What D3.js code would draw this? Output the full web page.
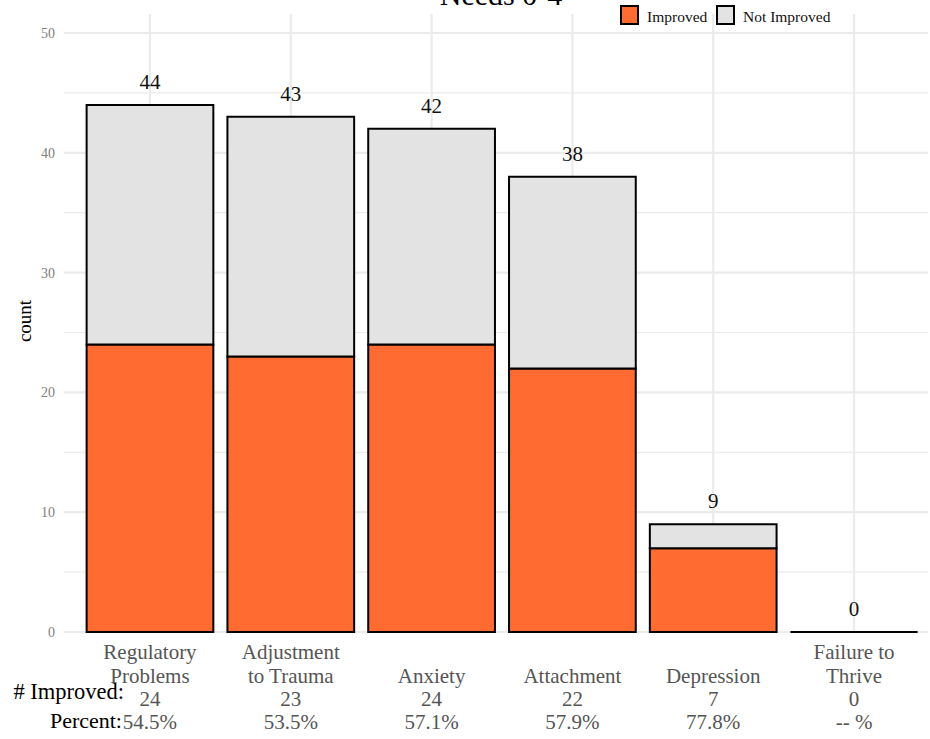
<!DOCTYPE html>
<html><head><meta charset="utf-8">
<script src="https://cdn.jsdelivr.net/npm/d3@7/dist/d3.min.js"></script>
<style>body{margin:0;background:#fff}svg{display:block}text{font-family:"Liberation Serif","DejaVu Serif",serif}</style>
</head><body><div id="chart"></div>
<script>
const categories = ["Regulatory\nProblems","Adjustment\nto Trauma","Anxiety","Attachment","Depression","Failure to\nThrive"];
const improved = [24,23,24,22,7,0];
const notImproved = [20,20,18,16,2,0];
const percentLabels = ["54.5%","53.5%","57.1%","57.9%","77.8%","-- %"];
const yTicks = [0,10,20,30,40,50];
const yMinor = [5,15,25,35,45];
const seriesNames = ["Improved","Not Improved"];
const colors = ["#FF6B30","#E3E3E3"];
const title = "Needs 0-4";

const W=930,H=739;
const svg=d3.select("#chart").append("svg").attr("width",W).attr("height",H);
const panelL=64, panelR=928, panelT=14;
const x=d3.scalePoint().domain(categories);
const step=(938.5-65.5)/(categories.length-1+1.2);
x.range([65.5+0.6*step, 938.5-0.6*step]);
const bw=step*0.9;
const y=d3.scaleLinear().domain([0,50]).range([632,33]);

const grid=svg.append("g");
yMinor.forEach(v=>grid.append("line").attr("x1",panelL).attr("x2",panelR).attr("y1",y(v)).attr("y2",y(v)).attr("stroke","#ececec").attr("stroke-width",1.2));
yTicks.forEach(v=>grid.append("line").attr("x1",panelL).attr("x2",panelR).attr("y1",y(v)).attr("y2",y(v)).attr("stroke","#ebebeb").attr("stroke-width",2.2));
categories.forEach(c=>grid.append("line").attr("x1",x(c)).attr("x2",x(c)).attr("y1",panelT).attr("y2",y(0)).attr("stroke","#ebebeb").attr("stroke-width",2.2));

svg.append("g").selectAll("text").data(yTicks).join("text")
  .attr("x",55).attr("y",d=>y(d)+5).attr("text-anchor","end")
  .attr("font-size",14).attr("fill","#808080").text(d=>d);

const data=categories.map((c,i)=>({c,imp:improved[i],not:notImproved[i],tot:improved[i]+notImproved[i]}));
function barPath(x0,x1,y0,y1){return `M${x0},${y0}V${y1}H${x1}V${y0}Z`;}
const bars=svg.append("g");
data.forEach(d=>{
  const x0=x(d.c)-bw/2,x1=x(d.c)+bw/2;
  bars.append("path").attr("d",barPath(x0,x1,y(0),y(d.imp))).attr("fill",colors[0]).attr("stroke","#000").attr("stroke-width",2);
  bars.append("path").attr("d",barPath(x0,x1,y(d.imp),y(d.tot))).attr("fill",colors[1]).attr("stroke","#000").attr("stroke-width",2);
});
svg.append("g").selectAll("text").data(data).join("text")
  .attr("x",d=>x(d.c)).attr("y",d=>y(d.tot)-16).attr("text-anchor","middle")
  .attr("font-size",21).attr("fill","#111").text(d=>d.tot);

const lineY=[659,683,706,729];
data.forEach((d,i)=>{
  const lines=d.c.split("\n");
  const start=2-lines.length;
  lines.forEach((l,j)=>svg.append("text").attr("x",x(d.c)).attr("y",lineY[start+j]).attr("text-anchor","middle").attr("font-size",21).attr("fill","#555").text(l));
  svg.append("text").attr("x",x(d.c)).attr("y",lineY[2]).attr("text-anchor","middle").attr("font-size",21).attr("fill","#555").text(improved[i]);
  svg.append("text").attr("x",x(d.c)).attr("y",lineY[3]).attr("text-anchor","middle").attr("font-size",21).attr("fill","#555").text(percentLabels[i]);
});
svg.append("text").attr("x",124).attr("y",699).attr("text-anchor","end").attr("font-size",22.5).attr("fill","#000").text("# Improved:");
svg.append("text").attr("x",122).attr("y",728).attr("text-anchor","end").attr("font-size",22).attr("fill","#000").text("Percent:");

svg.append("text").attr("transform","translate(31,321) rotate(-90)").attr("text-anchor","middle").attr("font-size",19).attr("fill","#000").text("count");

svg.append("text").attr("x",501).attr("y",5).attr("text-anchor","middle").attr("font-size",30).attr("fill","#000").text(title);

const lg=svg.append("g");
const legX=[621,717];
seriesNames.forEach((n,i)=>{
  lg.append("rect").attr("x",legX[i]).attr("y",6).attr("width",17).attr("height",18).attr("fill",colors[i]).attr("stroke","#000").attr("stroke-width",2);
  lg.append("text").attr("x",legX[i]+26).attr("y",22).attr("font-size",15.5).attr("fill","#111").text(n);
});
</script></body></html>
